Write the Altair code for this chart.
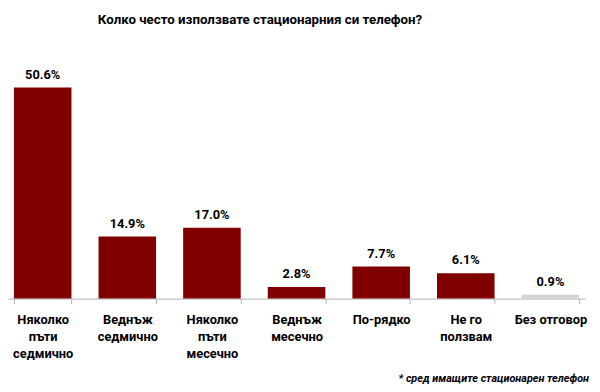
import altair as alt
import pandas as pd

categories = ["Няколко\nпъти\nседмично", "Веднъж\nседмично", "Няколко\nпъти\nмесечно",
              "Веднъж\nмесечно", "По-рядко", "Не го\nползвам", "Без отговор"]
values = [50.6, 14.9, 17.0, 2.8, 7.7, 6.1, 0.9]
colors = ["#800000"] * 6 + ["#d4d4d4"]
labels = ["50.6%", "14.9%", "17.0%", "2.8%", "7.7%", "6.1%", "0.9%"]

df = pd.DataFrame({"cat": categories, "val": values, "color": colors, "label": labels})

FONT = "Roboto"

x = alt.X("cat:N", sort=categories, title=None,
          scale=alt.Scale(paddingInner=0.32, paddingOuter=0.07),
          axis=alt.Axis(labelAngle=0, labelExpr="split(datum.label, '\\n')",
                        labelFont=FONT, labelFontSize=13, labelFontWeight="bold",
                        labelColor="#000", labelLineHeight=17.5, labelPadding=16,
                        labelBaseline="middle",
                        tickBand="extent", tickSize=5, tickColor="#b0b0b0",
                        domainColor="#b0b0b0", grid=False))
y = alt.Y("val:Q", scale=alt.Scale(domain=[0, 61.5]), axis=None)

bars = alt.Chart(df).mark_bar().encode(x=x, y=y, color=alt.Color("color:N", scale=None))
text = alt.Chart(df).mark_text(baseline="bottom", dy=-6, font=FONT, fontSize=13,
                               fontWeight="bold", color="#000").encode(x=x, y=y, text="label:N")
foot = alt.Chart(pd.DataFrame({"t": ["*   сред имащите стационарен телефон"]})).mark_text(
    align="right", baseline="middle", font=FONT, fontSize=11, fontStyle="italic",
    fontWeight="bold", color="#000").encode(x=alt.value(589), y=alt.value(342), text="t:N")

chart = alt.layer(bars, text, foot).properties(
    width=585, height=260,
    title=alt.Title("Колко често използвате стационарния си телефон?", font=FONT,
                    fontSize=13.5, fontWeight="bold", color="#000", anchor="middle",
                    offset=16, dx=-37),
    autosize=alt.AutoSizeParams(type="none"),
    padding={"left": 0, "top": 32, "right": 7, "bottom": 88},
).configure(background="white").configure_view(stroke=None)

chart.save("out.html", embed_options={"renderer": "svg", "actions": False})
